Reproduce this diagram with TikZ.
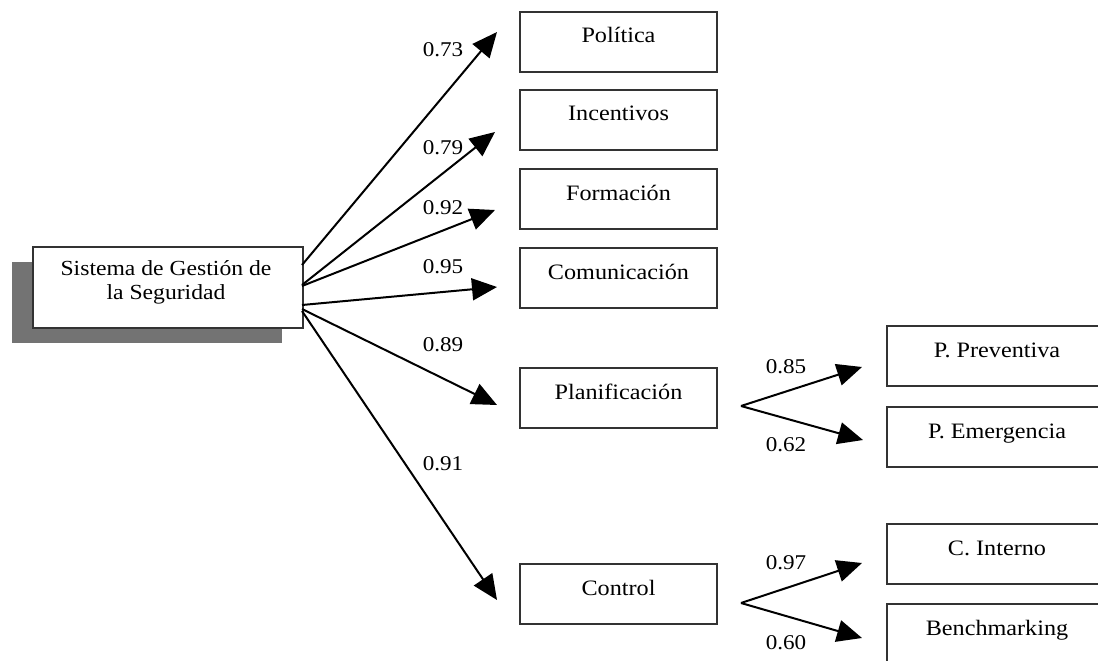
\documentclass[tikz,border=0pt]{standalone}
\usepackage{fontspec}
\setmainfont{Liberation Serif}[FakeStretch=1.1]
\usetikzlibrary{arrows.meta}
\tikzset{
  box/.style={draw=black!80, line width=2pt, rectangle, minimum width=197pt, minimum height=60pt,
    inner sep=0pt, text height=31pt, text depth=29pt, anchor=north},
  subbox/.style={box, minimum width=220pt},
  arr/.style={line width=2pt, -{Triangle[length=25pt,width=22pt]}},
  num/.style={font=\fontsize{21}{21}\selectfont, inner sep=0pt},
  txt/.style={anchor=north, inner sep=0pt, align=center}
}
\begin{document}
\begin{tikzpicture}[x=1pt,y=-1pt,font=\fontsize{22}{20}\selectfont]
\useasboundingbox (0,0) rectangle (1098,661);
\clip (0,0) rectangle (1098,661);
% main box with shadow
\fill[black!55] (12,262) rectangle (282,343);
\node[draw=black!80, line width=2pt, fill=white, minimum width=270pt, minimum height=81pt,
  anchor=north west, inner sep=0pt] (main) at (32,246) {};
\node[txt, font=\fontsize{21.5}{24.5}\selectfont] (maintext) at (166,260) {Sistema de Gestión de\\la Seguridad};
% first column
\node[box] (pol) at (618.5,11) {Política};
\node[box] (inc) at (618.5,89) {Incentivos};
\node[box] (for) at (618.5,168) {Formación};
\node[box] (com) at (618.5,247) {Comunicación};
\node[box] (pla) at (618.5,367) {Planificación};
\node[box] (con) at (618.5,563) {Control};
% second column
\node[subbox] (pre) at (997,325) {P. Preventiva};
\node[subbox] (eme) at (997,406) {P. Emergencia};
\node[subbox] (int) at (997,523) {C. Interno};
\node[subbox] (ben) at (997,603) {Benchmarking};
% start / tip coordinates
\coordinate (s1) at (302,265);
\coordinate (s2) at (302,285);
\coordinate (s3) at (302,286);
\coordinate (s4) at (302,305);
\coordinate (s5) at (302,309);
\coordinate (s6) at (302,311);
\coordinate (t1) at (497,32);
\coordinate (t2) at (495,132);
\coordinate (t3) at (495,210);
\coordinate (t4) at (497,287);
\coordinate (t5) at (497,405);
\coordinate (t6) at (497,600);
\draw[arr] (s1) -- (t1);
\draw[arr] (s2) -- (t2);
\draw[arr] (s3) -- (t3);
\draw[arr] (s4) -- (t4);
\draw[arr] (s5) -- (t5);
\draw[arr] (s6) -- (t6);
% forks
\coordinate (f1) at (741,406);
\coordinate (u1) at (862,367);
\coordinate (d1) at (863,440);
\coordinate (f2) at (741,603);
\coordinate (u2) at (862,563);
\coordinate (d2) at (862,638);
\draw[arr] (f1) -- (u1);
\draw[arr] (f1) -- (d1);
\draw[arr] (f2) -- (u2);
\draw[arr] (f2) -- (d2);
% labels
\node[num] (l1) at (443,50) {0.73};
\node[num] (l2) at (443,148) {0.79};
\node[num] (l3) at (443,208) {0.92};
\node[num] (l4) at (443,267) {0.95};
\node[num] (l5) at (443,345) {0.89};
\node[num] (l6) at (443,464) {0.91};
\node[num] (l7) at (786,367) {0.85};
\node[num] (l8) at (786,445) {0.62};
\node[num] (l9) at (786,563) {0.97};
\node[num] (l10) at (786,643) {0.60};
\end{tikzpicture}
\end{document}
